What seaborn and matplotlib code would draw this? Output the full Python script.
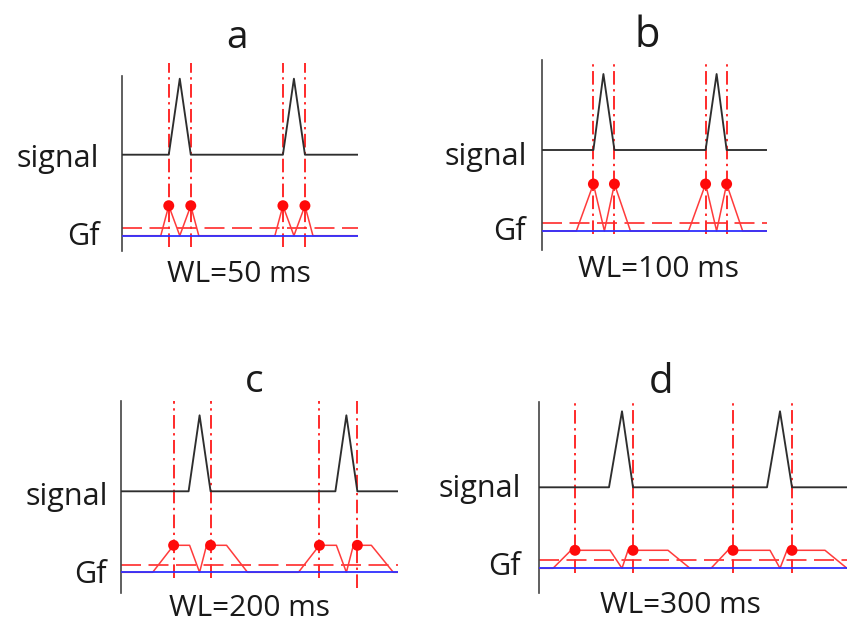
import matplotlib
matplotlib.use("Agg")
import matplotlib.pyplot as plt
import pandas as pd
import seaborn as sns

sns.set_theme(style="white")
plt.rcParams["font.family"] = ["Open Sans", "DejaVu Sans"]

# ---------------------------------------------------------------- data
panel_letters = ["a", "b", "c", "d"]
window_lengths_ms = [50, 100, 200, 300]

# signal: two triangular pulses on a flat baseline (time in ms)
signal_level = [81, 81, 157, 81, 81, 157, 81, 81]
signal_t_a = [0, 235, 290, 345, 805, 860, 915, 1180]
signal_t_b = [0, 255, 305, 360, 815, 870, 920, 1120]
signal_t_c = [0, 340, 395, 450, 1075, 1130, 1185, 1390]
signal_t_d = [0, 350, 415, 470, 1140, 1205, 1265, 1540]

# Gf trace for each window length
gf_t_a = [0, 195, 235, 290, 345, 385, 765, 805, 860, 915, 955, 1180]
gf_v_a = [0, 0, 30, 0, 30, 0, 0, 30, 0, 30, 0, 0]
gf_t_b = [0, 170, 255, 310, 360, 440, 730, 815, 870, 920, 1000, 1120]
gf_v_b = [0, 0, 47, 0, 47, 0, 0, 47, 0, 47, 0, 0]
gf_t_c = [0, 160, 265, 345, 395, 430, 530, 635, 890, 995, 1080, 1130, 1165, 1255, 1365, 1390]
gf_v_c = [0, 0, 27, 27, 0, 27, 27, 0, 0, 27, 27, 0, 27, 27, 0, 0]
gf_t_d = [0, 70, 160, 355, 415, 445, 645, 755, 860, 945, 1155, 1205, 1240, 1430, 1540]
gf_v_d = [0, 0, 18, 18, 0, 18, 18, 0, 0, 18, 18, 0, 18, 18, 0]

# detected onset / offset times and the Gf value marked there
bounds_a = [235, 345, 805, 915]
bounds_b = [255, 360, 815, 920]
bounds_c = [265, 450, 995, 1185]
bounds_d = [180, 470, 970, 1265]
gf_mark = [30, 47, 27, 18]
thresholds = [7.5, 8, 7.3, 8.3]

signal_ts = [signal_t_a, signal_t_b, signal_t_c, signal_t_d]
gf_ts = [gf_t_a, gf_t_b, gf_t_c, gf_t_d]
gf_vs = [gf_v_a, gf_v_b, gf_v_c, gf_v_d]
bounds = [bounds_a, bounds_b, bounds_c, bounds_d]

# ---------------------------------------------------------------- layout
W, H = 847, 622
fig = plt.figure(figsize=(W / 100, H / 100), dpi=100)

# axes boxes in pixels (left, top, right, bottom) and y ranges
boxes = [(121.7, 62.3, 358, 250.7), (542.3, 60, 766.7, 250),
         (120.7, 401, 398.3, 593.3), (539, 402, 847, 592.7)]
ylims = [(-15, 173.4), (-19, 171), (-21, 171.3), (-24.4, 166.3)]
spine_tops = [160, 171, 171, 166.3]
vline_tops = [173, 171, 171, 165]
vline_bottoms = [[-11] * 4, [-3] * 4, [-6, -6, -6, -16], [-5] * 4]

title_pos = [(237, 48), (647, 46.7), (254, 392), (661.5, 392.7)]
title_size = [28, 30, 28, 29]
signal_pos = [(99.3, 166.7), (527.3, 164.5), (108.3, 505.5), (520.7, 496.7)]
gf_pos = [(100, 245), (525.7, 240), (106.7, 583.3), (520.7, 575)]
wl_pos = [(238.7, 281.7), (659, 276.7), (249, 616), (680, 613)]

RED = "#ff2a2a"
BLUE = "#2f2fff"
DARK = "#2e2e2e"
TEXT = "#1a1a1a"


def fx(x):
    return x / W


def fy(y):
    return 1 - y / H


for i in range(4):
    l, t, r, b = boxes[i]
    ax = fig.add_axes([fx(l), fy(b), (r - l) / W, (b - t) / H])
    xmax = signal_ts[i][-1]

    # detection threshold for Gf
    ax.axhline(thresholds[i], color=RED, lw=1.2, ls=(0, (12, 4.5)), zorder=2)

    # onset / offset markers
    ax.vlines(bounds[i], vline_bottoms[i], vline_tops[i], colors=RED,
              lw=1.4, linestyles=[(0, (7, 2.3, 1.2, 2.3))], zorder=3)

    sig = pd.DataFrame({"t": signal_ts[i], "v": signal_level})
    sns.lineplot(data=sig, x="t", y="v", ax=ax, color=DARK, lw=1.35,
                 estimator=None, sort=False, zorder=4)

    gf = pd.DataFrame({"t": gf_ts[i], "v": gf_vs[i]})
    sns.lineplot(data=gf, x="t", y="v", ax=ax, color="#ff3b3b", lw=1.1,
                 estimator=None, sort=False, zorder=4)

    # Gf zero line drawn over the trace
    ax.axhline(0, color=BLUE, lw=1.3, zorder=4.5)

    pts = pd.DataFrame({"t": bounds[i], "v": [gf_mark[i]] * 4})
    sns.scatterplot(data=pts, x="t", y="v", ax=ax, color="#ff0a0a", s=62,
                    marker="o", edgecolor="none", zorder=5)

    ax.set_xlim(0, xmax)
    ax.set_ylim(*ylims[i])
    ax.set_xticks([])
    ax.set_yticks([])
    ax.set_xlabel("")
    ax.set_ylabel("")
    for side in ["top", "right", "bottom"]:
        ax.spines[side].set_visible(False)
    ax.spines["left"].set_color("#444444")
    ax.spines["left"].set_linewidth(1.2)
    ax.spines["left"].set_bounds(ylims[i][0], spine_tops[i])
    ax.patch.set_alpha(0)

    # titles and labels
    tx, ty = title_pos[i]
    fig.text(fx(tx), fy(ty), panel_letters[i], ha="center", va="baseline",
             fontsize=title_size[i], color=TEXT)
    sx, sy = signal_pos[i]
    fig.text(fx(sx), fy(sy), "signal", ha="right", va="baseline",
             fontsize=22, color=TEXT)
    gx, gy = gf_pos[i]
    fig.text(fx(gx), fy(gy), "Gf", ha="right", va="baseline",
             fontsize=22, color=TEXT)
    wx, wy = wl_pos[i]
    fig.text(fx(wx), fy(wy), f"WL={window_lengths_ms[i]} ms", ha="center",
             va="baseline", fontsize=21.5, color=TEXT)

fig.savefig("out.png", dpi=100)
